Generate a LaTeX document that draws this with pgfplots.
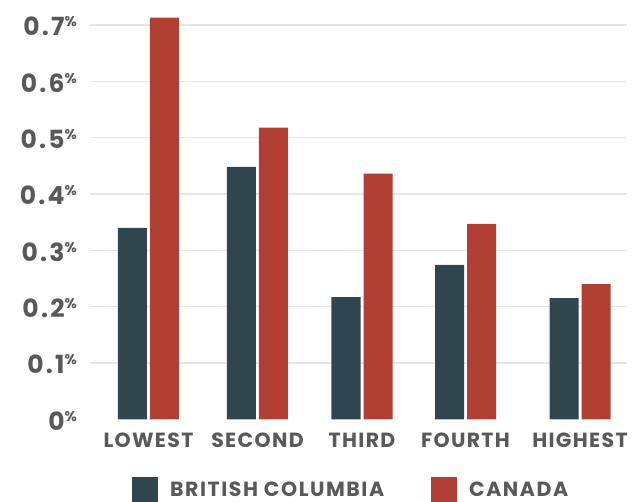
\documentclass[border=0pt]{standalone}
\usepackage{pgfplots}
\pgfplotsset{compat=1.18}
\usepackage{fontspec}
\setmainfont{Poppins}
\newfontfamily\catfont[LetterSpace=6.5]{Poppins}
\newfontfamily\legfont[LetterSpace=7.5]{Poppins}
\newfontfamily\numfont[LetterSpace=9]{Poppins}

\definecolor{bcblue}{HTML}{30464F}
\definecolor{canred}{HTML}{B04034}
\definecolor{labgray}{HTML}{58595B}
\definecolor{gridgray}{HTML}{E6E6E6}

% small raised percent sign used on the y axis
\newcommand\pct{\raisebox{9pt}{\fontsize{14}{14}\selectfont\%}}

% bar values (%), x = category position
\pgfplotstableread{
x      bc     can
58.5   0.340  0.713
167.5  0.448  0.518
272    0.217  0.436
375.5  0.274  0.347
490    0.215  0.240
}\quintiles

\begin{document}
\begin{tikzpicture}
\path[use as bounding box] (-90pt,-82.7pt) rectangle (551pt,419.3pt);
\begin{axis}[
    at={(0pt,0pt)}, anchor=south west,
    scale only axis,
    width=537pt, height=419.3pt,
    xmin=0, xmax=537,
    ymin=0, ymax=0.7444,
    axis line style={draw=none},
    major tick length=0pt,
    ybar, bar width=29pt,
    xtick={58.5,167.5,272,375.5,490},
    xticklabels={LOWEST,SECOND,THIRD,FOURTH,HIGHEST},
    xticklabel style={font=\catfont\fontsize{20.5}{20.5}\selectfont\bfseries,
        text=labgray, anchor=base, inner sep=0pt, yshift=-28.4pt},
    ytick={0,0.1,0.2,0.3,0.4,0.5,0.6,0.7},
    yticklabels={0\pct,0.1\pct,0.2\pct,0.3\pct,0.4\pct,0.5\pct,0.6\pct,0.7\pct},
    yticklabel style={font=\numfont\fontsize{25}{25}\selectfont\bfseries,
        text=labgray, anchor=base east, inner sep=0pt, xshift=-13pt, yshift=-11pt},
    extra y ticks={0.1,0.2,0.3,0.4,0.5,0.6,0.7},
    extra y tick labels={},
    extra y tick style={grid=major},
    major grid style={draw=gridgray, line width=1.6pt},
    legend columns=2,
    legend style={at={(0.07821,-0.1972)}, anchor=south west,
        draw=none, fill=none, inner sep=0pt,
        nodes={inner sep=0pt, text=labgray},
        font=\legfont\fontsize{20.5}{20.5}\selectfont\bfseries,
        /tikz/every odd column/.append style={column sep=12pt},
        /tikz/every even column/.append style={column sep=47pt}},
]
\addplot[fill=bcblue, draw=none, bar shift=-16pt,
    legend image code/.code={\fill[bcblue] (0pt,-11.5pt) rectangle (26pt,13.5pt);}]
    table[x=x, y=bc] {\quintiles};
\addlegendentry{BRITISH COLUMBIA}
\addplot[fill=canred, draw=none, bar shift=16pt,
    legend image code/.code={\fill[canred] (0pt,-11.5pt) rectangle (26pt,13.5pt);}]
    table[x=x, y=can] {\quintiles};
\addlegendentry{CANADA}
\end{axis}
\end{tikzpicture}
\end{document}
